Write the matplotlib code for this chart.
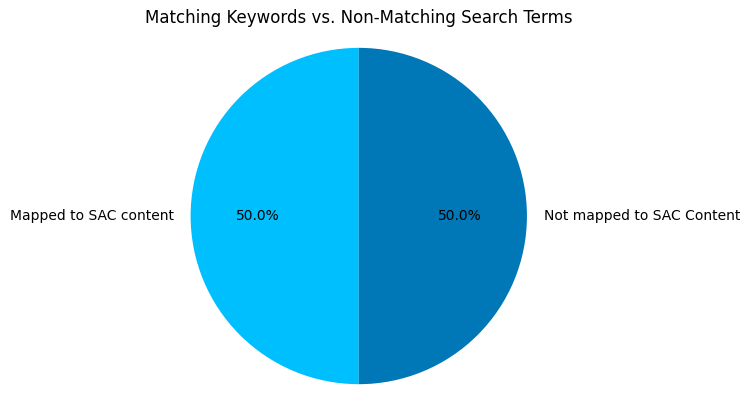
import matplotlib
matplotlib.use("Agg")
import matplotlib.pyplot as plt

labels = ["Mapped to SAC content", "Not mapped to SAC Content"]
sizes = [50, 50]
colors = ["#00BFFF", "#0077B6"]

fig = plt.figure(figsize=(7.49, 4.11), dpi=100)
ax = fig.add_axes([0.148, 0.0243, 0.662, 0.9002])

ax.pie(sizes, labels=labels, colors=colors, autopct="%1.1f%%", startangle=90)
ax.axis("equal")
ax.set_title("Matching Keywords vs. Non-Matching Search Terms")

fig.savefig("out.png", dpi=100)
